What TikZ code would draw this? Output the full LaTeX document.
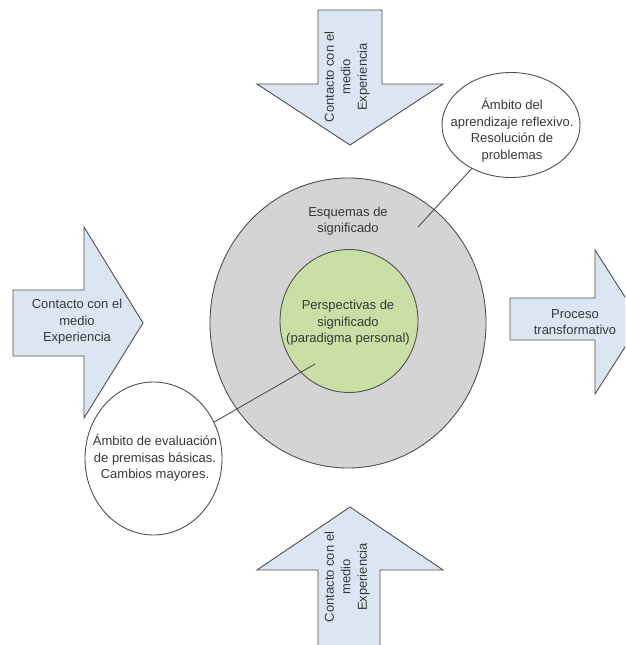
\documentclass[tikz,border=0pt]{standalone}
\usepackage{fontspec}
\setmainfont{Liberation Sans}
\usetikzlibrary{shapes.geometric}
\definecolor{arrowfill}{HTML}{DCE6F2}
\definecolor{ringfill}{HTML}{D4D4D4}
\definecolor{corefill}{HTML}{C9DFA6}
\definecolor{edgegray}{HTML}{505050}
\definecolor{txt}{HTML}{383838}
\begin{document}
\begin{tikzpicture}[x=1pt,y=-1pt,
  shapeline/.style={draw=edgegray, line width=0.9pt},
  bigarrow/.style={shapeline, fill=arrowfill, line join=miter},
  lbl/.style={text=txt, align=center, font=\fontsize{13}{16.5}\selectfont, inner sep=0pt},
  bubble/.style={shapeline, fill=white, ellipse, inner sep=0pt},
  disc/.style={shapeline, ellipse, inner sep=0pt},
  leader/.style={draw=edgegray, line width=0.9pt}]
\useasboundingbox (0,0) rectangle (625,645);
\clip (0,0) rectangle (625,645);
\fill[white] (0,0) rectangle (625,645);

% arrows
\path[bigarrow] (318,10) -- (382,10) -- (382,84) -- (443,84) -- (350,145) -- (257,84) -- (318,84) -- cycle;
\path[bigarrow] (350,507) -- (443,570) -- (380,570) -- (380,660) -- (318,660) -- (318,570) -- (257,570) -- cycle;
\path[bigarrow] (13,290) -- (84,290) -- (84,227) -- (143,323) -- (84,418) -- (84,356) -- (13,356) -- cycle;
\path[bigarrow] (510,298) -- (595,298) -- (595,250) -- (641,322) -- (595,394) -- (595,340) -- (510,340) -- cycle;

\node[lbl, rotate=90] (toplbl) at (347,77) {Contacto con el\\medio\\Experiencia};
\node[lbl, rotate=90] (botlbl) at (347,577) {Contacto con el\\medio\\Experiencia};
\node[lbl] (leftlbl) at (77,322) {Contacto con el\\medio\\Experiencia};
\node[lbl] (rightlbl) at (575,322) {Proceso\\transformativo};

% central discs
\node[disc, fill=ringfill, minimum width=276pt, minimum height=290pt] (ring) at (348,323) {};
\node[disc, fill=corefill, minimum width=138pt, minimum height=143pt] (core) at (349,321) {};
\node[lbl] (ringlbl) at (348,221) {Esquemas de\\significado};
\node[lbl] (corelbl) at (348,323) {Perspectivas de\\significado\\(paradigma personal)};

% bubbles
\node[bubble, minimum width=138pt, minimum height=105pt] (tr) at (511,125) {};
\node[lbl] (trlbl) at (512,130) {Ámbito del\\aprendizaje reflexivo.\\Resolución de\\problemas};
\node[bubble, minimum width=137pt, minimum height=153pt] (bl) at (153.5,458.5) {};
\node[lbl] (bllbl) at (155,458) {Ámbito de evaluación\\de premisas básicas.\\Cambios mayores.};

\coordinate (trend) at (418,227);
\coordinate (blend) at (315,364);
\draw[leader] (tr.228) -- (trend);
\draw[leader] (bl.31) -- (blend);
\end{tikzpicture}
\end{document}
